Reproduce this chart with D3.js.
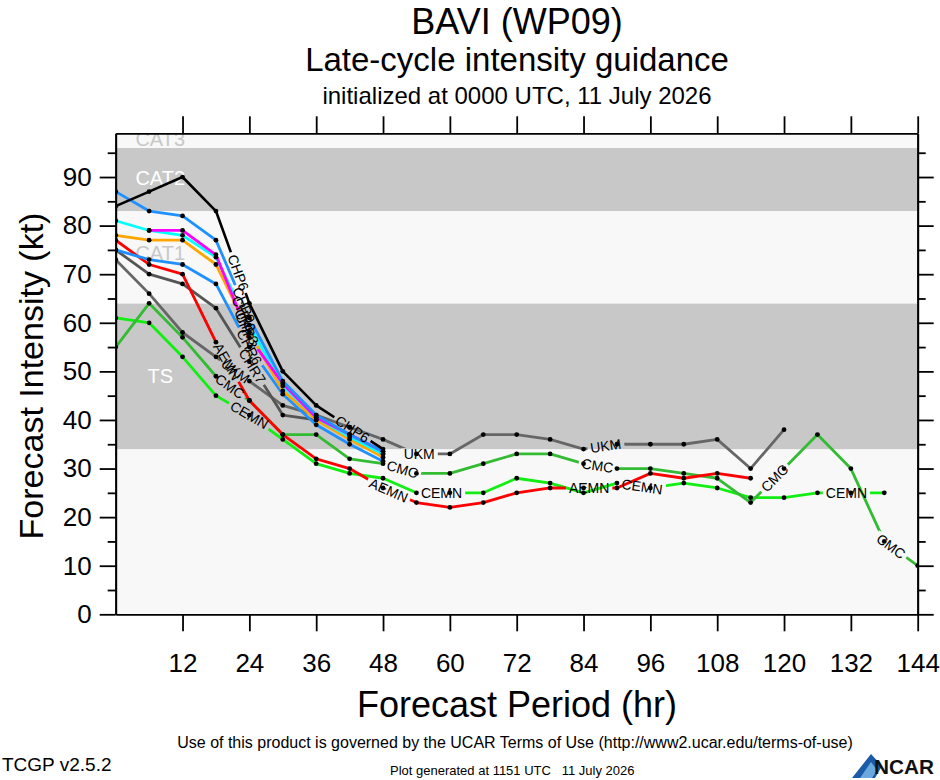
<!DOCTYPE html>
<html>
<head>
<meta charset="utf-8">
<title>BAVI (WP09) late-cycle intensity guidance</title>
<script src="https://cdn.jsdelivr.net/npm/d3@7"></script>
<style>
  body { margin: 0; background: #fff; }
  svg text { font-family: "Liberation Sans", Arial, Helvetica, sans-serif; }
</style>
</head>
<body>
<svg id="chart" width="940" height="780"></svg>
<script>
// forecast hours and model intensities (kt); null = no forecast
const hours = [0, 6, 12, 18, 24, 30, 36, 42, 48, 54, 60, 66, 72, 78, 84, 90, 96, 102, 108, 114, 120, 126, 132, 138, 144];

const chp6 = [84, 87, 90, 83, 64, 50, 43, 38.5, 34];
const chp0 = [87, 83, 82, 77, 61, 48, 41, 37, 33.5];
const chp3 = [null, 79, 79, 74, 57, 47.5, 40.5, 37, 33.5];
const chr0 = [81, 79, 78, 73.5, 59.5, 47, 40.5, 36.5, 33];
const chr3 = [78, 77, 77, 72, 58, 46, 40, 36, 32.3];
const chr6 = [75, 73, 72, 68, 55, 45.3, 39, 35, 31.5];
const chr7 = [75, 70, 68, 63, 52, 41, 40, 37, 33];
const ukm  = [73, 66, 58, 53, 48, 43, 41, 38.5, 36, 33, 33, 37, 37, 36, 34, 35, 35, 35, 36, 30, 38];
const aemn = [77, 72, 70, 56, 44, 37, 32, 30, 26, 23, 22, 23, 25, 26, 26, 26, 29, 28, 29, 28];
const cmc  = [55, 64, 57, 49, 44, 37, 37, 32, 31, 29, 29, 31, 33, 33, 31, 30, 30, 29, 28, 23, 30, 37, 30, 15, 10];
const cemn = [61, 60, 53, 45, 41, 36, 31, 29, 28, 25, 25, 25, 28, 27, 25, 27, 26, 27, 26, 24, 24, 25, 25, 25];

// hours along each line where its name is written
const ukmLabels  = [21.5, 54.5, 88];
const aemnLabels = [20, 49, 85];
const cmcLabels  = [20.5, 51.5, 86.5, 118.3, 139.2];
const cemnLabels = [24, 58.5, 94.5, 131.2];

// Saffir-Simpson bands (kt)
const bandEdges = [0, 34, 64, 83, 96, 99];
const bandNames = ['', 'TS', 'CAT1', 'CAT2', 'CAT3'];
const bandLabelKt = [0, 47.6, 72.9, 88.4, 96.4];

const xTicks = [12, 24, 36, 48, 60, 72, 84, 96, 108, 120, 132, 144];
const yTicks = [0, 10, 20, 30, 40, 50, 60, 70, 80, 90];
const yMinor = [5, 15, 25, 35, 45, 55, 65, 75, 85, 95];

const models = [
  {name: 'UKM',  color: '#666666', values: ukm,  labelAt: ukmLabels},
  {name: 'CHR7', color: '#555555', values: chr7, labelAt: [24.5]},
  {name: 'CEMN', color: '#11ee11', values: cemn, labelAt: cemnLabels},
  {name: 'CMC',  color: '#33bb33', values: cmc,  labelAt: cmcLabels},
  {name: 'AEMN', color: '#ff0000', values: aemn, labelAt: aemnLabels},
  {name: 'CHR6', color: '#1e90ff', values: chr6, labelAt: [24]},
  {name: 'CHR3', color: '#ffa500', values: chr3, labelAt: [23.5]},
  {name: 'CHR0', color: '#00ffff', values: chr0, labelAt: [23]},
  {name: 'CHP3', color: '#ff00ff', values: chp3, labelAt: [23.5]},
  {name: 'CHP0', color: '#1e90ff', values: chp0, labelAt: [23]},
  {name: 'CHP6', color: '#000000', values: chp6, labelAt: [22, 42.5]}
];

const W = 940, H = 780;
const pLeft = 115.7, pRight = 917.7, pTop = 133.3, pBottom = 614.3;

const x = d3.scaleLinear().domain([0, 144]).range([pLeft, pRight]);
const y = d3.scaleLinear().domain([0, 99]).range([pBottom, pTop]);

const svg = d3.select('#chart');
const defs = svg.append('defs');
defs.append('clipPath').attr('id', 'plotClip')
  .append('rect')
  .attr('x', pLeft).attr('y', pTop)
  .attr('width', pRight - pLeft).attr('height', pBottom - pTop);

// titles
svg.append('text').attr('x', 517).attr('y', 34).attr('text-anchor', 'middle')
  .attr('font-size', 36).text('BAVI (WP09)');
svg.append('text').attr('x', 517).attr('y', 71).attr('text-anchor', 'middle')
  .attr('font-size', 33).text('Late-cycle intensity guidance');
svg.append('text').attr('x', 517).attr('y', 104).attr('text-anchor', 'middle')
  .attr('font-size', 24).text('initialized at 0000 UTC, 11 July 2026');

const plot = svg.append('g').attr('clip-path', 'url(#plotClip)');

// intensity bands
const bands = bandNames.map((n, i) => ({name: n, lo: bandEdges[i], hi: bandEdges[i + 1], kt: bandLabelKt[i], gray: i % 2 === 1}));
plot.selectAll('rect.band')
  .data(bands)
  .enter().append('rect')
  .attr('class', 'band')
  .attr('x', pLeft)
  .attr('width', pRight - pLeft)
  .attr('y', d => y(d.hi))
  .attr('height', d => y(d.lo) - y(d.hi))
  .attr('fill', d => d.gray ? '#c8c8c8' : '#f8f8f8');

plot.selectAll('text.band')
  .data(bands.filter(d => d.name))
  .enter().append('text')
  .attr('class', 'band')
  .attr('x', x(8))
  .attr('y', d => y(d.kt))
  .attr('text-anchor', 'middle')
  .attr('font-size', 20)
  .attr('fill', d => d.gray ? '#ffffff' : '#c8c8c8')
  .text(d => d.name);

// model lines
const line = d3.line().x(d => x(d[0])).y(d => y(d[1]));
const linesG = plot.append('g');
const dotsG = plot.append('g');
const labelsG = plot.append('g');

models.forEach((m, i) => {
  const pts = hours.map((h, j) => [h, m.values[j]]).filter(p => p[1] != null);

  const labs = m.labelAt.map(h => {
    let k = 0;
    while (k < pts.length - 2 && h > pts[k + 1][0]) k++;
    const a = pts[k], b = pts[k + 1];
    const t = (h - a[0]) / (b[0] - a[0]);
    const v = a[1] + t * (b[1] - a[1]);
    const ang = Math.atan2(y(b[1]) - y(a[1]), x(b[0]) - x(a[0])) * 180 / Math.PI;
    return {cx: x(h), cy: y(v), ang: ang};
  });

  const texts = labelsG.selectAll(null)
    .data(labs)
    .enter().append('text')
    .attr('transform', d => `translate(${d.cx},${d.cy}) rotate(${d.ang})`)
    .attr('text-anchor', 'middle')
    .attr('dy', '0.35em')
    .attr('font-size', 14)
    .attr('fill', '#000')
    .text(m.name);

  const widths = texts.nodes().map(n => n.getComputedTextLength());

  // gap in the line where the name is written
  const mask = defs.append('mask').attr('id', 'gap' + i)
    .attr('maskUnits', 'userSpaceOnUse')
    .attr('x', 0).attr('y', 0).attr('width', W).attr('height', H);
  mask.append('rect').attr('width', W).attr('height', H).attr('fill', '#fff');
  mask.selectAll('rect.hole')
    .data(labs)
    .enter().append('rect')
    .attr('class', 'hole')
    .attr('x', (d, k) => -(widths[k] + 6) / 2)
    .attr('y', -6)
    .attr('width', (d, k) => widths[k] + 6)
    .attr('height', 12)
    .attr('transform', d => `translate(${d.cx},${d.cy}) rotate(${d.ang})`)
    .attr('fill', '#000');

  linesG.append('path')
    .datum(pts)
    .attr('d', line)
    .attr('fill', 'none')
    .attr('stroke', m.color)
    .attr('stroke-width', m.name === 'CHP6' ? 2.6 : 2.8)
    .attr('stroke-linejoin', 'round')
    .attr('mask', `url(#gap${i})`);

  dotsG.selectAll(null)
    .data(pts)
    .enter().append('circle')
    .attr('cx', d => x(d[0]))
    .attr('cy', d => y(d[1]))
    .attr('r', 2.4)
    .attr('fill', '#000');
});

// axes (ticks point outward on all four sides)
function style(g) {
  g.selectAll('path, line').attr('stroke', '#000').attr('stroke-width', 1.8);
  g.selectAll('text').attr('font-size', 26).attr('fill', '#000')
    .attr('font-family', '"Liberation Sans", Arial, Helvetica, sans-serif');
}

svg.append('g').attr('transform', `translate(0,${pBottom})`)
  .call(d3.axisBottom(x).tickValues(xTicks).tickSize(17).tickSizeOuter(0).tickPadding(22))
  .call(style);
svg.append('g').attr('transform', `translate(0,${pTop})`)
  .call(d3.axisTop(x).tickValues(xTicks).tickSize(17).tickSizeOuter(0).tickFormat(''))
  .call(style);
svg.append('g').attr('transform', `translate(${pLeft},0)`)
  .call(d3.axisLeft(y).tickValues(yTicks).tickSize(16).tickSizeOuter(0).tickPadding(8))
  .call(style);
svg.append('g').attr('transform', `translate(${pLeft},0)`)
  .call(d3.axisLeft(y).tickValues(yMinor).tickSize(8).tickSizeOuter(0).tickFormat(''))
  .call(style);
svg.append('g').attr('transform', `translate(${pRight},0)`)
  .call(d3.axisRight(y).tickValues(yTicks).tickSize(16).tickSizeOuter(0).tickFormat(''))
  .call(style);
svg.append('g').attr('transform', `translate(${pRight},0)`)
  .call(d3.axisRight(y).tickValues(yMinor).tickSize(8).tickSizeOuter(0).tickFormat(''))
  .call(style);

// axis titles
svg.append('text').attr('x', 517).attr('y', 717).attr('text-anchor', 'middle')
  .attr('font-size', 36).text('Forecast Period (hr)');
svg.append('text').attr('transform', `translate(43,376) rotate(-90)`)
  .attr('text-anchor', 'middle').attr('font-size', 34).text('Forecast Intensity (kt)');

// footer
svg.append('text').attr('x', 515).attr('y', 748).attr('text-anchor', 'middle')
  .attr('font-size', 16).text('Use of this product is governed by the UCAR Terms of Use (http://www2.ucar.edu/terms-of-use)');
svg.append('text').attr('x', 2).attr('y', 771).attr('font-size', 19).text('TCGP v2.5.2');
svg.append('text').attr('x', 390).attr('y', 775).attr('font-size', 13)
  .attr('xml:space', 'preserve').text('Plot generated at 1151 UTC   11 July 2026');

// NCAR logo
const logo = svg.append('g');
logo.append('path')
  .attr('d', 'M852,778 L871,754 L882,766 L875,778 Z')
  .attr('fill', '#1a5aa6');
logo.append('path')
  .attr('d', 'M860,778 L871,762 L877,770 L872,778 Z')
  .attr('fill', '#6aa8de');
logo.append('text').attr('x', 874).attr('y', 774).attr('font-size', 20)
  .attr('font-weight', 'bold').attr('fill', '#111')
  .attr('textLength', 60).attr('lengthAdjust', 'spacingAndGlyphs').text('NCAR');
</script>
</body>
</html>
